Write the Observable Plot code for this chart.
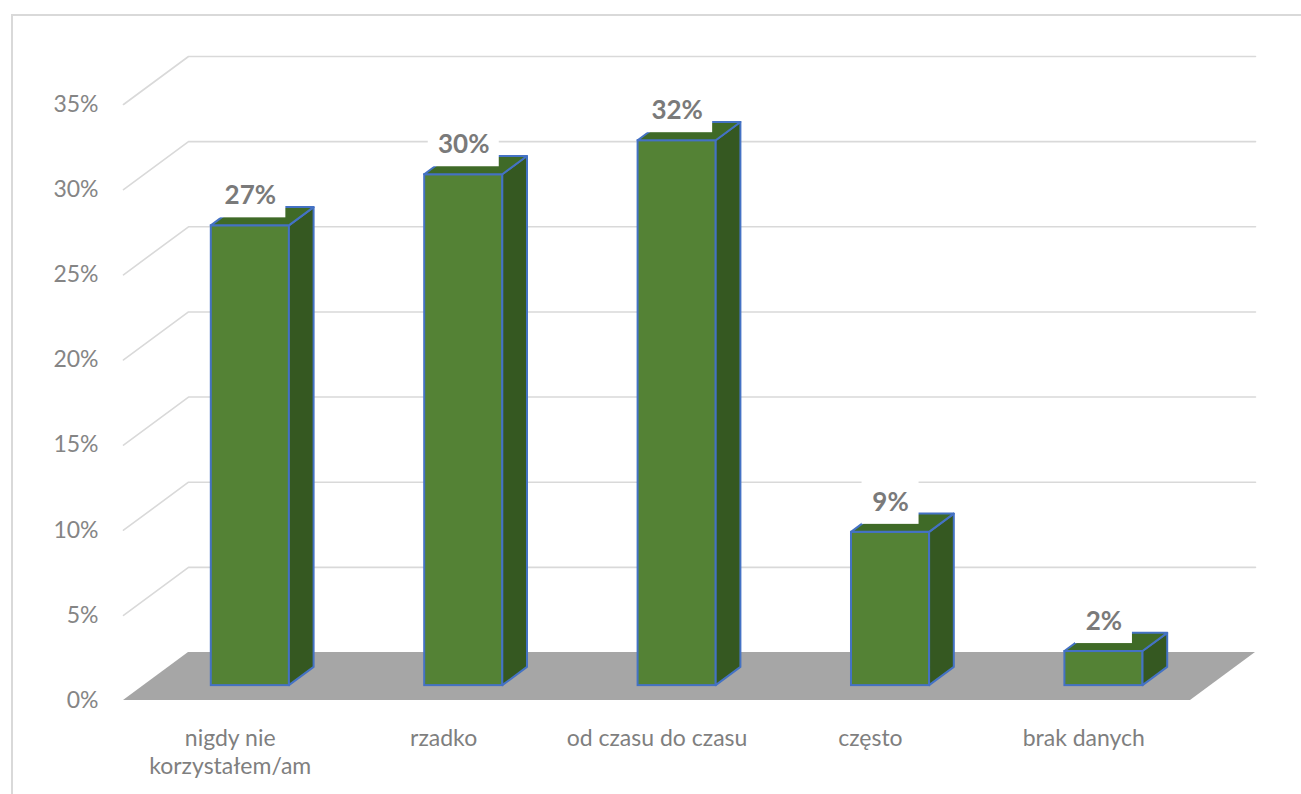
<!DOCTYPE html>
<html lang="pl">
<head>
<meta charset="utf-8">
<title>Korzystanie</title>
<script src="https://cdn.jsdelivr.net/npm/d3@7"></script>
<script src="https://cdn.jsdelivr.net/npm/@observablehq/plot@0.6"></script>
<style>
  html, body { margin: 0; padding: 0; background: #fff; }
  #wrap { position: relative; width: 1301px; height: 794px; overflow: hidden; }
  #edge { position: absolute; left: 11px; top: 14px; width: 1400px; height: 900px;
          border-left: 2px solid #d9d9d9; border-top: 2px solid #d9d9d9; box-sizing: border-box; }
  #chart { position: absolute; left: 0; top: 0; }
</style>
</head>
<body>
<div id="wrap"><div id="edge"></div><div id="chart"></div></div>
<script>
// Answer categories and their shares (%)
const categories = ["nigdy nie\nkorzystałem/am", "rzadko", "od czasu do czasu", "często", "brak danych"];
const shares = [27, 30, 32, 9, 2];
const yTicks = [0, 5, 10, 15, 20, 25, 30, 35];

// Pseudo-3D geometry: a point at depth z (0 = front, 1 = back wall) is shifted
// by z*DEPTH_X along x and z*DEPTH_Y along y, both in scale units.
const PX_PER_X = 1067 / 5;      // pixels per category band
const PX_PER_Y = 596 / 35;      // pixels per percentage point
const DEPTH_X = 65 / PX_PER_X;
const DEPTH_Y = 48 / PX_PER_Y;
const Z_FRONT = 0.31, Z_BACK = 0.69;   // depth occupied by each column
const HALF_W = 0.183;                  // half the column width in band units

const bars = shares.map((v, i) => {
  const xl = i + 0.5 - HALF_W, xr = i + 0.5 + HALF_W;
  return {i, v, xl, xr, label: v + "%"};
});

// Front faces
const fronts = bars.map(b => ({
  x1: b.xl + Z_FRONT * DEPTH_X, x2: b.xr + Z_FRONT * DEPTH_X,
  y1: Z_FRONT * DEPTH_Y, y2: b.v + Z_FRONT * DEPTH_Y
}));
// Right side faces (vertical edges)
const sides = bars.flatMap(b => [Z_FRONT, Z_BACK].map(z => ({
  k: b.i, x: b.xr + z * DEPTH_X, y1: z * DEPTH_Y, y2: b.v + z * DEPTH_Y
})));
// Top faces (horizontal edges)
const tops = bars.flatMap(b => [Z_FRONT, Z_BACK].map(z => ({
  k: b.i, y: b.v + z * DEPTH_Y, x1: b.xl + z * DEPTH_X, x2: b.xr + z * DEPTH_X
})));
// Floor
const floor = [0, 1].map(z => ({y: z * DEPTH_Y, x1: z * DEPTH_X, x2: 5 + z * DEPTH_X}));
// Gridlines: slanted side-wall segment then along the back wall
const grid = yTicks.filter(t => t > 0).flatMap(t => [
  {t, x: 0, y: t},
  {t, x: DEPTH_X, y: t + DEPTH_Y},
  {t, x: 5 + DEPTH_X, y: t + DEPTH_Y}
]);

// White boxes behind the value labels
const labelBoxes = bars.map(b => {
  const cx = b.i + 0.5 + Z_FRONT * DEPTH_X;
  const top = b.v + Z_FRONT * DEPTH_Y;
  const textW = 14 * (b.label.length - 1) + 25;
  const hw = (textW / 2 + 9) / PX_PER_X;
  return {x1: cx - hw, x2: cx + hw, y1: top + 8 / PX_PER_Y, y2: top + 52 / PX_PER_Y};
});

const green = "#548235", greenSide = "#355821", greenTop = "#3f6a27", edge = "#4472c4";

const chart = Plot.plot({
  width: 1301,
  height: 794,
  marginLeft: 123,
  marginRight: 111,
  marginTop: 104,
  marginBottom: 94,
  x: {domain: [0, 5], axis: null},
  y: {domain: [0, 35], axis: null},
  style: {fontFamily: "Lato, 'Open Sans', sans-serif", background: "transparent"},
  marks: [
    Plot.line(grid, {x: "x", y: "y", z: "t", stroke: "#d9d9d9", strokeWidth: 1.6}),
    Plot.areaX(floor, {y: "y", x1: "x1", x2: "x2", fill: "#a6a6a6"}),
    Plot.rect(fronts, {x1: "x1", x2: "x2", y1: "y1", y2: "y2", fill: green, stroke: edge, strokeWidth: 2}),
    Plot.areaY(sides, {x: "x", y1: "y1", y2: "y2", z: "k", fill: greenSide, stroke: edge, strokeWidth: 2, strokeLinejoin: "round"}),
    Plot.areaX(tops, {y: "y", x1: "x1", x2: "x2", z: "k", fill: greenTop, stroke: edge, strokeWidth: 2, strokeLinejoin: "round"}),
    Plot.rect(labelBoxes, {x1: "x1", x2: "x2", y1: "y1", y2: "y2", fill: "white"}),
    Plot.text(bars, {
      x: b => b.i + 0.5 + Z_FRONT * DEPTH_X,
      y: b => b.v + Z_FRONT * DEPTH_Y,
      text: "label", dy: -30,
      fontSize: 26, fontWeight: "bold", fill: "#7a7a7a"
    }),
    Plot.text(yTicks, {
      x: 0, y: d => d, text: d => d + "%",
      textAnchor: "end", dx: -25, fontSize: 23, fill: "#858585"
    }),
    Plot.text(categories, {
      x: (d, i) => i + 0.5, y: 0, text: d => d,
      lineAnchor: "top", dy: 26, lineHeight: 1.22,
      textAnchor: "middle", fontSize: 23, fill: "#7f7f7f"
    })
  ]
});

document.getElementById("chart").appendChild(chart);
</script>
</body>
</html>
